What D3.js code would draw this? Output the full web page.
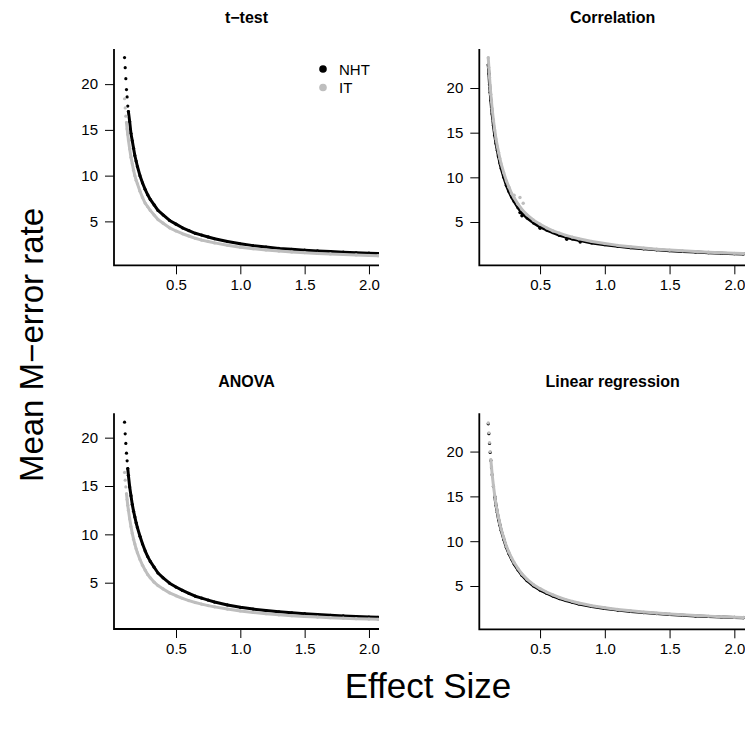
<!DOCTYPE html>
<html><head><meta charset="utf-8">
<script src="https://cdn.jsdelivr.net/npm/d3@7"></script>
<style>body{margin:0;background:#fff}svg{display:block}</style>
</head><body><svg id="chart" width="745" height="730"></svg>
<script>
// ---------- DATA ----------
const effectSize = [0.10,0.105,0.11,0.115,0.12,0.125,0.13,0.14,0.15,0.16,0.17,0.18,0.19,0.20,0.22,0.24,0.26,0.28,0.30,0.33,0.36,0.40,0.45,0.50,0.55,0.60,0.65,0.70,0.75,0.80,0.90,1.00,1.10,1.20,1.30,1.40,1.50,1.60,1.70,1.80,1.90,2.00,2.07];

const ttestNHT = [22.9,21.8,20.6,19.4,18.6,17.6,17.0,15.9,14.6,13.8,13.0,12.2,11.6,11.0,10.0,9.2,8.5,7.9,7.4,6.8,6.2,5.7,5.1,4.7,4.3,4.0,3.7,3.5,3.3,3.1,2.8,2.55,2.35,2.2,2.05,1.95,1.85,1.77,1.7,1.63,1.57,1.52,1.49];
const ttestIT  = [18.4,17.4,16.5,15.8,15.1,14.5,13.9,12.9,12.0,11.3,10.6,10.0,9.5,9.1,8.3,7.6,7.0,6.6,6.2,5.7,5.2,4.8,4.3,3.95,3.65,3.4,3.15,2.95,2.8,2.65,2.4,2.18,2.02,1.88,1.76,1.66,1.58,1.5,1.44,1.38,1.33,1.28,1.25];

const corrNHT = [22.6,21.6,20.4,19.5,18.6,17.8,17.1,15.8,14.7,13.8,13.0,12.3,11.6,11.0,10.0,9.1,8.4,7.8,7.3,6.6,6.0,5.45,4.9,4.45,4.1,3.8,3.5,3.3,3.1,2.95,2.65,2.45,2.27,2.12,1.99,1.88,1.79,1.7,1.63,1.56,1.5,1.45,1.42];
const corrIT  = [23.4,22.3,21.2,20.2,19.3,18.5,17.7,16.4,15.3,14.3,13.5,12.8,12.1,11.5,10.5,9.6,8.9,8.2,7.7,7.0,6.4,5.8,5.2,4.75,4.35,4.0,3.75,3.5,3.3,3.12,2.82,2.58,2.38,2.22,2.08,1.96,1.86,1.77,1.69,1.62,1.56,1.5,1.46];
const corrNHTStrayX = [0.178,0.345,0.36,0.487,0.50,0.706,0.81];
const corrNHTStrayY = [12.4,6.05,5.7,4.6,4.3,3.06,2.75];
const corrITStrayX = [0.30,0.345,0.37];
const corrITStrayY = [8.0,7.75,7.1];

const anovaNHT = [21.6,20.4,19.4,18.4,17.6,16.8,16.1,14.9,14.0,13.1,12.4,11.8,11.2,10.7,9.8,9.0,8.3,7.7,7.2,6.6,6.0,5.5,4.95,4.55,4.2,3.9,3.6,3.4,3.2,3.0,2.7,2.45,2.27,2.12,1.99,1.88,1.79,1.7,1.63,1.56,1.5,1.45,1.42];
const anovaIT  = [16.4,15.6,14.9,14.2,13.6,13.0,12.5,11.6,10.8,10.1,9.5,9.0,8.5,8.1,7.4,6.8,6.3,5.85,5.5,5.05,4.7,4.35,3.95,3.65,3.38,3.15,2.95,2.78,2.63,2.5,2.27,2.08,1.92,1.79,1.68,1.59,1.51,1.44,1.38,1.33,1.28,1.24,1.21];

const regNHT = [23.1,22.0,20.9,19.9,19.0,18.2,17.4,16.1,15.0,14.0,13.2,12.4,11.8,11.2,10.2,9.3,8.6,8.0,7.45,6.8,6.2,5.6,5.0,4.55,4.2,3.88,3.6,3.38,3.18,3.0,2.72,2.5,2.31,2.16,2.03,1.92,1.82,1.74,1.66,1.6,1.54,1.49,1.46];
const regIT  = [23.2,22.1,21.0,20.0,19.1,18.3,17.5,16.2,15.1,14.1,13.3,12.6,11.95,11.35,10.35,9.45,8.75,8.15,7.6,6.95,6.35,5.75,5.15,4.7,4.33,4.0,3.72,3.48,3.28,3.1,2.8,2.58,2.39,2.23,2.1,1.98,1.88,1.79,1.71,1.64,1.58,1.52,1.49];

const panelTitles = ["t\u2212test","Correlation","ANOVA","Linear regression"];
const seriesNames = ["NHT","IT"];
const xTicks = [0.5,1.0,1.5,2.0];
const xTickLabels = ["0.5","1.0","1.5","2.0"];
const yTicks = [5,10,15,20];
const yTickLabels = ["5","10","15","20"];

// ---------- LAYOUT / STYLE ----------
const colors = {NHT:"#000000", IT:"#bebebe"};
const font = "'Liberation Sans', Arial, Helvetica, sans-serif";
const layout = [
  {x0:114,   x1:379, y0:49,    y1:265.3, xd:[0.018,2.078], yd:[0.2,23.84]},
  {x0:479.3, x1:746, y0:49,    y1:265.3, xd:[0.031,2.09],  yd:[0.15,24.37]},
  {x0:114,   x1:379, y0:413.3, y1:629,   xd:[0.018,2.078], yd:[0.21,22.52]},
  {x0:479.3, x1:746, y0:413.3, y1:629.3, xd:[0.031,2.09],  yd:[0.17,24.27]}
];
// level above which points appear as separate dots rather than a dense band
const bandLimits = [
  {NHT:17.2, IT:16.0},
  {NHT:30,   IT:30},
  {NHT:17.0, IT:14.5},
  {NHT:15.5, IT:19.5}
];
const panelSeries = [
  {NHT:ttestNHT, IT:ttestIT},
  {NHT:corrNHT, IT:corrIT, strays:{NHT:[corrNHTStrayX,corrNHTStrayY], IT:[corrITStrayX,corrITStrayY]}},
  {NHT:anovaNHT, IT:anovaIT},
  {NHT:regNHT, IT:regIT}
];

const svg = d3.select("#chart");
const defs = svg.append("defs");

layout.forEach((L, i) => {
  const x = d3.scaleLinear().domain(L.xd).range([L.x0, L.x1]);
  const y = d3.scaleLinear().domain(L.yd).range([L.y1, L.y0]);
  const g = svg.append("g");
  const clipId = "clip" + i;
  defs.append("clipPath").attr("id", clipId).append("rect")
    .attr("x", L.x0).attr("y", L.y0).attr("width", L.x1 - L.x0).attr("height", L.y1 - L.y0);

  const plot = g.append("g").attr("clip-path", `url(#${clipId})`);
  const S = panelSeries[i];
  seriesNames.forEach(name => {
    const lim = bandLimits[i][name];
    const line = d3.line().defined(d => d[1] <= lim).x(d => x(d[0])).y(d => y(d[1]));
    const pts = effectSize.map((e, k) => [e, S[name][k]]);
    const c = colors[name];
    plot.append("path").datum(pts).attr("d", line)
      .attr("fill", "none").attr("stroke", c).attr("stroke-width", 3)
      .attr("stroke-linejoin", "round").attr("stroke-linecap", "round");
    plot.selectAll(null).data(pts).enter().append("circle")
      .attr("cx", d => x(d[0])).attr("cy", d => y(d[1])).attr("r", 1.6).attr("fill", c);
    if (S.strays && S.strays[name]) {
      const [sx, sy] = S.strays[name];
      plot.selectAll(null).data(sx.map((v, k) => [v, sy[k]])).enter().append("circle")
        .attr("cx", d => x(d[0])).attr("cy", d => y(d[1])).attr("r", 1.7).attr("fill", c);
    }
  });

  // axes
  const ax = g.append("g").attr("transform", `translate(0,${L.y1})`)
    .call(d3.axisBottom(x).tickValues(xTicks).tickFormat((d, k) => xTickLabels[k]).tickSize(9).tickPadding(5));
  const ay = g.append("g").attr("transform", `translate(${L.x0},0)`)
    .call(d3.axisLeft(y).tickValues(yTicks).tickFormat((d, k) => yTickLabels[k]).tickSize(9).tickPadding(7));
  [ax, ay].forEach(a => {
    a.select(".domain").remove();
    a.selectAll(".tick line").attr("stroke", "#000").attr("stroke-width", 1);
    a.selectAll(".tick text").attr("font-family", font).attr("font-size", 15).attr("fill", "#000");
  });
  // L-shaped box
  g.append("path")
    .attr("d", `M${L.x0},${L.y0}V${L.y1}H${L.x1}`)
    .attr("fill", "none").attr("stroke", "#000").attr("stroke-width", 1.8);

  // title
  g.append("text").attr("x", (L.x0 + L.x1) / 2).attr("y", L.y0 - 26)
    .attr("text-anchor", "middle").attr("font-family", font).attr("font-weight", "bold")
    .attr("font-size", 16).text(panelTitles[i]);
});

// legend (first panel)
const legend = svg.append("g");
seriesNames.forEach((name, k) => {
  legend.append("circle").attr("cx", 323).attr("cy", 69 + k * 18.5).attr("r", 3.8).attr("fill", colors[name]);
  legend.append("text").attr("x", 339).attr("y", 74.5 + k * 18.5)
    .attr("font-family", font).attr("font-size", 15).text(name);
});

// outer axis titles
svg.append("text").attr("x", 428).attr("y", 698).attr("text-anchor", "middle")
  .attr("font-family", font).attr("font-size", 35).text("Effect Size");
svg.append("text").attr("transform", "translate(43,345) rotate(-90)").attr("text-anchor", "middle")
  .attr("font-family", font).attr("font-size", 33).text("Mean M\u2212error rate");
</script></body></html>
